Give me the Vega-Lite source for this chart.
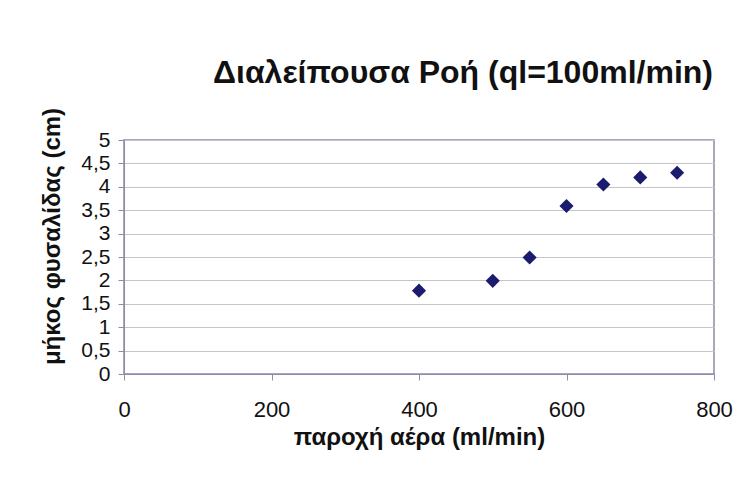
{
  "$schema": "https://vega.github.io/schema/vega-lite/v6.json",
  "width": 590,
  "height": 234,
  "autosize": "none",
  "padding": {"left": 124, "top": 140, "right": 42, "bottom": 130},
  "background": "white",
  "title": {
    "text": "Διαλείπουσα Ροή (ql=100ml/min)",
    "font": "Liberation Sans",
    "fontSize": 32,
    "fontWeight": "bold",
    "color": "#111111",
    "anchor": "middle",
    "dx": 44,
    "offset": 17
  },
  "config": {
    "view": {"stroke": "#8c8ca8", "strokeWidth": 1.5},
    "axis": {
      "labelFont": "Liberation Sans",
      "titleFont": "Liberation Sans",
      "labelColor": "#111111",
      "titleColor": "#111111",
      "domainColor": "#8c8ca8",
      "tickColor": "#8c8ca8",
      "gridColor": "#c4c4cc",
      "gridWidth": 1
    }
  },
  "data": {
    "values": [
      {"air": 400, "len": 1.78},
      {"air": 500, "len": 1.99},
      {"air": 550, "len": 2.49},
      {"air": 600, "len": 3.59},
      {"air": 650, "len": 4.05},
      {"air": 700, "len": 4.2},
      {"air": 750, "len": 4.3}
    ]
  },
  "mark": {"type": "point", "shape": "diamond", "filled": true, "size": 200, "color": "#1c1c6e", "opacity": 1},
  "encoding": {
    "x": {
      "field": "air",
      "type": "quantitative",
      "scale": {"domain": [0, 800], "nice": false},
      "axis": {
        "values": [0, 200, 400, 600, 800],
        "grid": false,
        "title": "παροχή αέρα (ml/min)",
        "titleFontSize": 24,
        "titleFontWeight": "bold",
        "titlePadding": 5,
        "labelFontSize": 22,
        "labelPadding": 19,
        "tickSize": 6,
        "labelFlush": false
      }
    },
    "y": {
      "field": "len",
      "type": "quantitative",
      "scale": {"domain": [0, 5], "nice": false},
      "axis": {
        "values": [0, 0.5, 1, 1.5, 2, 2.5, 3, 3.5, 4, 4.5, 5],
        "labelExpr": "replace(format(datum.value, '~g'), '.', ',')",
        "title": "μήκος φυσαλίδας (cm)",
        "titleFontSize": 24,
        "titleFontWeight": "bold",
        "titlePadding": 16,
        "titleY": 96,
        "labelFontSize": 21,
        "labelPadding": 8,
        "tickSize": 6,
        "labelFlush": false,
        "labelOverlap": false
      }
    }
  }
}
